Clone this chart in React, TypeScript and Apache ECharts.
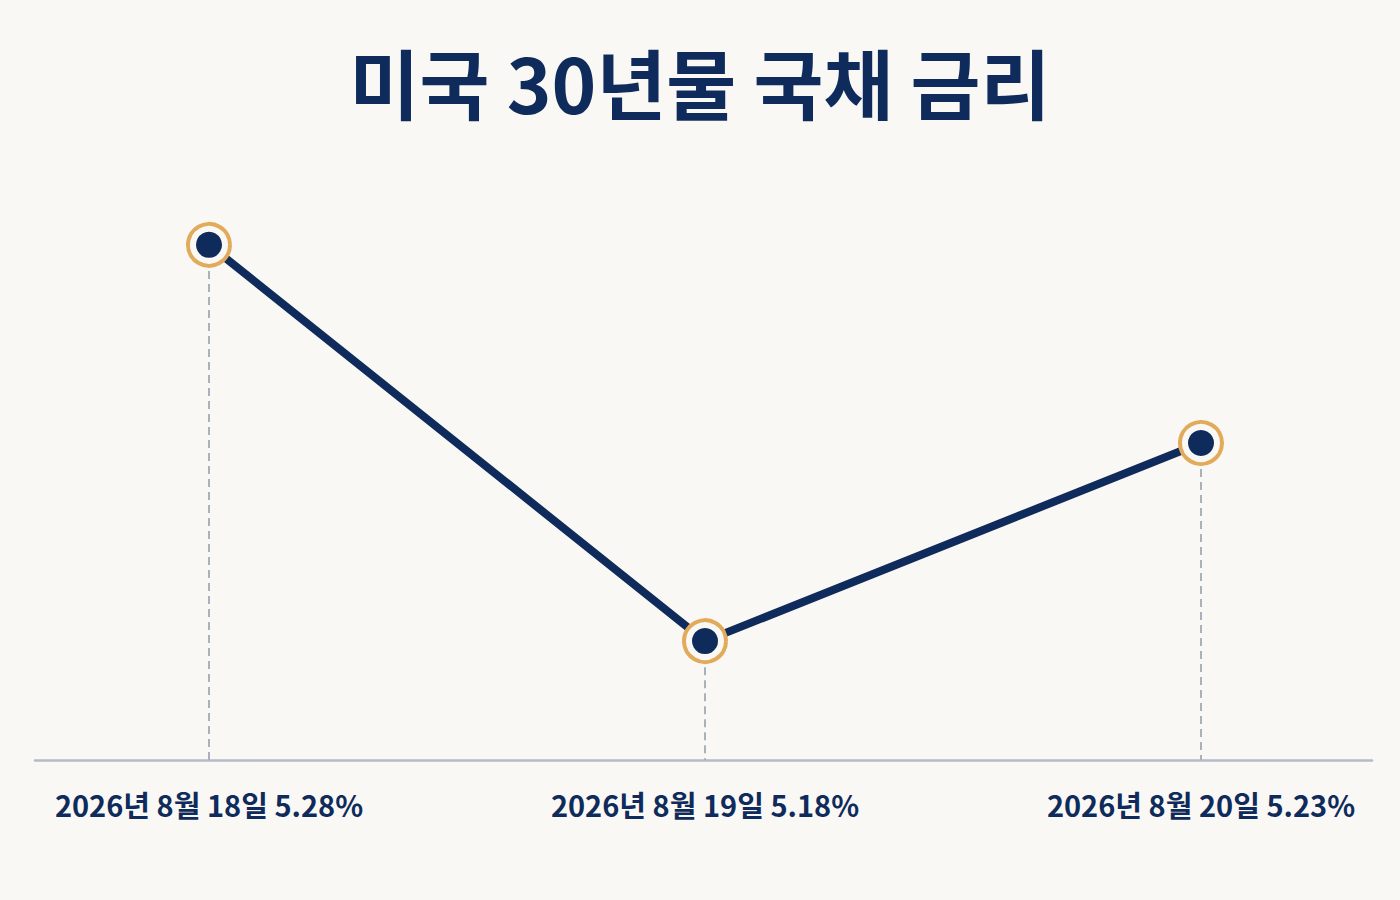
import React, { useEffect, useRef } from "react";
import * as echarts from "echarts";

const titleText = "미국 30년물 국채 금리";
const categories = ["2026년 8월 18일", "2026년 8월 19일", "2026년 8월 20일"];
const values = [5.28, 5.18, 5.23];
const yMin = 5.15;
const yMax = 5.31;

const NAVY = "#0f2b5c";
const GOLD = "#e2aa5b";
const BG = "#faf8f4";
const FONT = "'Noto Sans CJK KR', 'Noto Sans', sans-serif";

export default function App() {
  const ref = useRef<HTMLDivElement>(null);
  useEffect(() => {
    if (!ref.current) return;
    const chart = echarts.init(ref.current, undefined, { renderer: "svg" });
    chart.setOption({
      animation: false,
      backgroundColor: BG,
      textStyle: { fontFamily: FONT },
      title: {
        text: titleText,
        left: "center",
        top: 38,
        textStyle: { fontSize: 76, fontWeight: "bold", color: NAVY, fontFamily: FONT },
      },
      grid: [
        { left: 35, right: 28, top: 126, bottom: 140 },
        { left: 209, right: 199, top: 126, bottom: 140 },
      ],
      xAxis: [
        {
          gridIndex: 0,
          type: "value",
          min: 0,
          max: 1,
          axisLine: { show: true, lineStyle: { color: "#b5bac6", width: 2.5 } },
          axisTick: { show: false },
          axisLabel: { show: false },
          splitLine: { show: false },
        },
        {
          gridIndex: 1,
          type: "category",
          boundaryGap: false,
          data: categories,
          axisLine: { show: false },
          axisTick: { show: false },
          splitLine: { show: false },
          axisLabel: {
            margin: 29,
            fontSize: 29,
            fontWeight: "bold",
            color: NAVY,
            fontFamily: FONT,
            formatter: (v: string, i: number) => `${v} ${values[i].toFixed(2)}%`,
          },
        },
      ],
      yAxis: [
        { gridIndex: 0, type: "value", show: false, min: yMin, max: yMax },
        { gridIndex: 1, type: "value", show: false, min: yMin, max: yMax },
      ],
      series: [
        {
          type: "line",
          xAxisIndex: 1,
          yAxisIndex: 1,
          data: values,
          showSymbol: false,
          symbol: "none",
          lineStyle: { color: NAVY, width: 8 },
          z: 2,
          markLine: {
            silent: true,
            z: 1,
            symbol: ["none", "none"],
            label: { show: false },
            lineStyle: { color: "#aab0bc", width: 2, type: [8, 5] },
            data: categories.map((c, i) => [
              { coord: [i, values[i]] },
              { coord: [i, yMin] },
            ]),
          },
        },
        {
          type: "scatter",
          xAxisIndex: 1,
          yAxisIndex: 1,
          data: values,
          symbol: "circle",
          symbolSize: 42,
          itemStyle: { color: BG, borderColor: GOLD, borderWidth: 4, opacity: 1 },
          z: 3,
          silent: true,
        },
        {
          type: "scatter",
          xAxisIndex: 1,
          yAxisIndex: 1,
          data: values,
          symbol: "circle",
          symbolSize: 26,
          itemStyle: { color: NAVY, opacity: 1 },
          z: 4,
          silent: true,
        },
      ],
    });
    return () => chart.dispose();
  }, []);
  return (
    <div
      ref={ref}
      style={{ position: "fixed", left: 0, top: 0, width: 1400, height: 900 }}
    />
  );
}
